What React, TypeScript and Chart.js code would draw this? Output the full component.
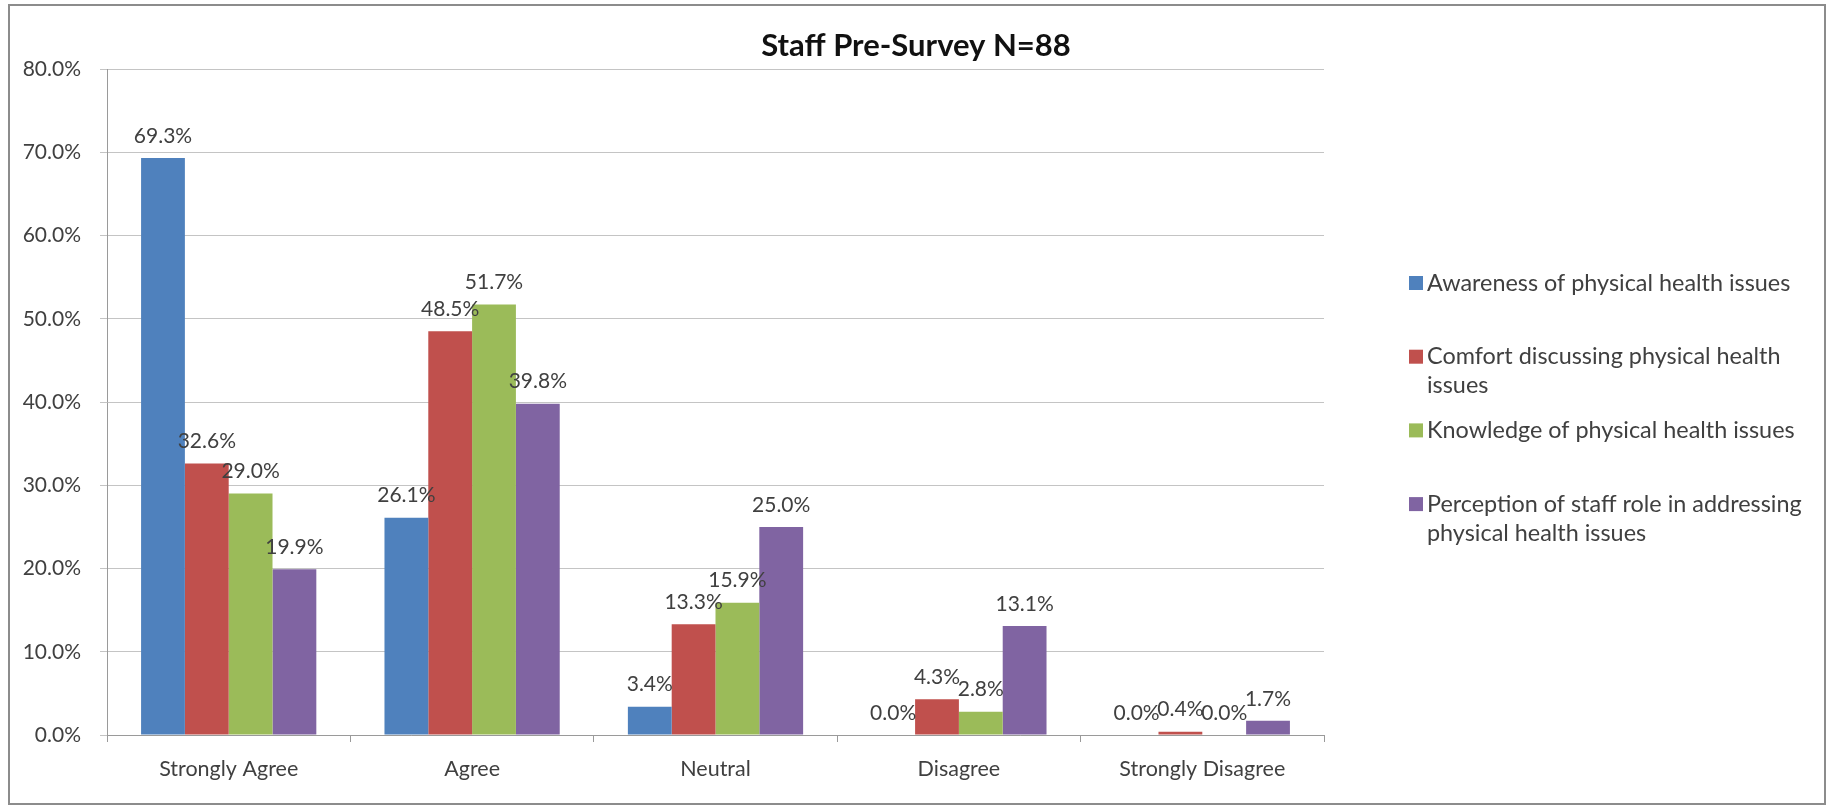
import React, { useEffect, useRef } from "react";
import { Chart, registerables } from "chart.js";

Chart.register(...registerables);

const chartTitle = "Staff Pre-Survey N=88";
const categories = ["Strongly Agree", "Agree", "Neutral", "Disagree", "Strongly Disagree"];
const seriesNames = [
  "Awareness of physical health issues",
  "Comfort discussing physical health issues",
  "Knowledge of physical health issues",
  "Perception of staff role in addressing physical health issues",
];
const awarenessValues = [69.3, 26.1, 3.4, 0.0, 0.0];
const comfortValues = [32.6, 48.5, 13.3, 4.3, 0.4];
const knowledgeValues = [29.0, 51.7, 15.9, 2.8, 0.0];
const perceptionValues = [19.9, 39.8, 25.0, 13.1, 1.7];
const seriesColors = ["#4F81BD", "#C0504D", "#9BBB59", "#8064A2"];
const yMin = 0;
const yMax = 80;
const yStep = 10;

const FONT = "Lato, 'Open Sans', sans-serif";
const TEXT = "#404040";

const overlayPlugin = {
  id: "overlay",
  afterDraw(chart: any) {
    const ctx = chart.ctx as CanvasRenderingContext2D;
    ctx.save();
    // title
    ctx.fillStyle = "#111";
    ctx.font = `bold 31px ${FONT}`;
    ctx.textAlign = "center";
    ctx.textBaseline = "middle";
    ctx.fillText(chartTitle, 916, 46);

    // data labels
    ctx.font = `21px ${FONT}`;
    ctx.fillStyle = TEXT;
    ctx.textBaseline = "middle";
    chart.data.datasets.forEach((ds: any, i: number) => {
      const meta = chart.getDatasetMeta(i);
      meta.data.forEach((bar: any, j: number) => {
        const v = ds.data[j] as number;
        ctx.fillText(v.toFixed(1) + "%", bar.x, bar.y - 22);
      });
    });

    // legend
    ctx.font = `23.4px ${FONT}`;
    ctx.textAlign = "left";
    const maxW = ctx.measureText(seriesNames[0]).width * 1.07;
    const x0 = 1409;
    const lineH = 29;
    const step = 73.7;
    seriesNames.forEach((name, i) => {
      const words = name.split(" ");
      const lines: string[] = [];
      let cur = "";
      words.forEach((w) => {
        const t = cur ? cur + " " + w : w;
        if (ctx.measureText(t).width > maxW && cur) {
          lines.push(cur);
          cur = w;
        } else cur = t;
      });
      if (cur) lines.push(cur);
      const yy = 283 + i * step;
      ctx.fillStyle = seriesColors[i];
      ctx.fillRect(x0, yy - 7, 14, 14);
      ctx.fillStyle = TEXT;
      lines.forEach((ln, k) => ctx.fillText(ln, x0 + 18, yy + k * lineH));
    });
    ctx.restore();
  },
};

export default function App() {
  const ref = useRef<HTMLCanvasElement>(null);
  useEffect(() => {
    const seriesData = [awarenessValues, comfortValues, knowledgeValues, perceptionValues];
    const chart = new Chart(ref.current!, {
      type: "bar",
      data: {
        labels: categories,
        datasets: seriesNames.map((name, i) => ({
          label: name,
          data: seriesData[i],
          backgroundColor: seriesColors[i],
          borderWidth: 0,
          barPercentage: 1.0,
          categoryPercentage: 0.72,
        })),
      },
      options: {
        responsive: false,
        animation: false,
        devicePixelRatio: 1,
        layout: { padding: { left: 0, top: 69, right: 504, bottom: 0 } },
        plugins: { legend: { display: false }, title: { display: false }, tooltip: { enabled: false } },
        scales: {
          x: {
            grid: { drawOnChartArea: false, drawTicks: true, tickLength: 7, color: "#9a9a9a", offset: true },
            border: { display: true, color: "#9a9a9a", width: 1 },
            ticks: { color: TEXT, font: { family: FONT, size: 21.5 }, padding: 14, maxRotation: 0 },
            afterFit: (s: any) => { s.height = 72; },
          },
          y: {
            min: yMin,
            max: yMax,
            grid: { color: "#c4c4c4", tickLength: 7, drawTicks: true, lineWidth: 1 },
            border: { display: true, color: "#9a9a9a", width: 1 },
            ticks: {
              stepSize: yStep,
              color: TEXT,
              font: { family: FONT, size: 21 },
              padding: 19,
              callback: (v: any) => Number(v).toFixed(1) + "%",
            },
            afterFit: (s: any) => { s.width = 107; },
          },
        },
      },
      plugins: [overlayPlugin],
    });
    return () => chart.destroy();
  }, []);

  return (
    <div style={{ position: "absolute", left: 0, top: 0, width: 1828, height: 807, background: "#fff", overflow: "hidden" }}>
      <div style={{ position: "absolute", left: 8, top: 4, width: 1818, height: 801, border: "2px solid #8c8c8c", boxSizing: "border-box" }} />
      <canvas ref={ref} width={1828} height={807} style={{ position: "absolute", left: 0, top: 0, width: 1828, height: 807 }} />
    </div>
  );
}
